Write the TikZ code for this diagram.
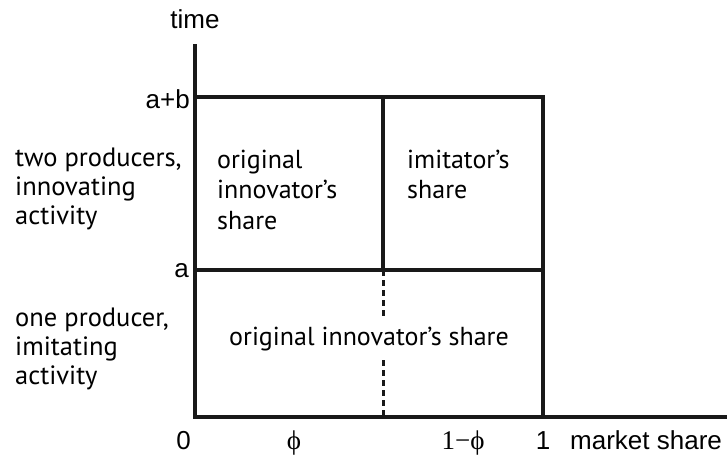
\documentclass[tikz,border=0pt]{standalone}
\usepackage{fontspec}
\setmainfont{Liberation Sans}
\newfontfamily\myr{PT Sans}
\newfontfamily\ser{Liberation Serif}
\begin{document}
\begin{tikzpicture}[x=1pt,y=-1pt,
  ax/.style={line width=3.2pt, draw=black!90},
  dsh/.style={line width=3pt, draw=black!90, dash pattern=on 6pt off 4pt},
  lab/.style={inner sep=0pt, font=\fontsize{26}{28}\selectfont},
  blk/.style={inner sep=0pt, align=left, font=\myr\fontsize{26.5}{29}\selectfont},
  bx/.style={inner sep=0pt, align=left, font=\myr\fontsize{26}{30.5}\selectfont},
  gr/.style={inner sep=0pt, font=\ser\fontsize{27}{28}\selectfont}]
\useasboundingbox (0,0) rectangle (727,455);
\coordinate (top) at (195,44);
\coordinate (O) at (195,417);
\coordinate (xend) at (727,417);
\coordinate (AB0) at (195,97);
\coordinate (ABm) at (383,97);
\coordinate (AB1) at (543,97);
\coordinate (A0) at (195,270);
\coordinate (Am) at (383,270);
\coordinate (A1) at (543,270);
\coordinate (Om) at (383,417);
\coordinate (O1) at (543,417);
\draw[ax] (top) -- (O) -- (xend);
\draw[ax] (AB0) -- (AB1) -- (O1);
\draw[ax] (A0) -- (A1);
\draw[ax] (ABm) -- (Am);
\draw[dsh] (Am) -- (Om);
\node[lab, anchor=base] (time) at (195,28) {time};
\node[lab, anchor=base east] (ab) at (190,108) {a+b};
\node[lab, anchor=base east] (a) at (189,277) {a};
\node[lab, anchor=base] (zero) at (183.5,449) {0};
\node[gr, anchor=base] (phi) at (294,449) {ϕ};
\node[gr, anchor=base] (omphi) at (463,449) {1−ϕ};
\node[lab, anchor=base] (one) at (543,449) {1};
\node[lab, anchor=base west] (ms) at (570,449) {market share};
\node[blk, anchor=base west] (two) at (15,224.7) {two producers,\\innovating\\activity};
\node[blk, anchor=base west] (onep) at (15,384.7) {one producer,\\imitating\\activity};
\node[bx, anchor=base west] (orig) at (217,229) {original\\innovator’s\\share};
\node[bx, anchor=base west] (imit) at (407,198.5) {imitator’s\\share};
\node[bx, anchor=base, fill=white, inner ysep=7pt, inner xsep=2pt] (origb) at (369,345) {original innovator’s share};
\end{tikzpicture}
\end{document}
